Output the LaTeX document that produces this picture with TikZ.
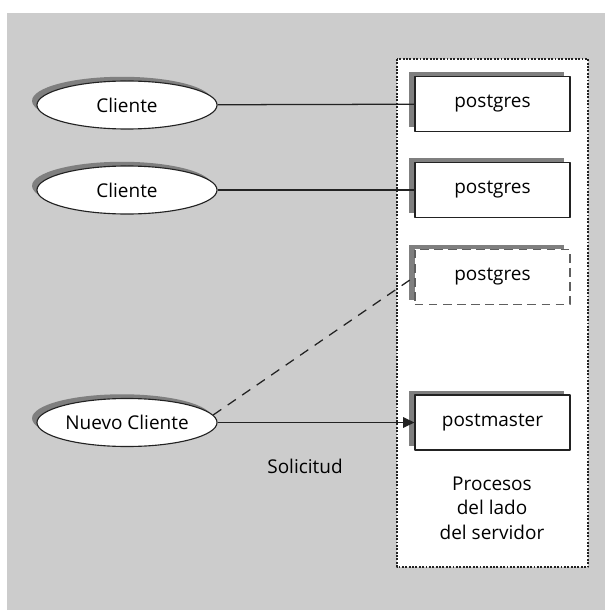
\documentclass[tikz,border=0pt]{standalone}
\usepackage{fontspec}
\setmainfont{Open Sans}
\usetikzlibrary{shapes.geometric,shadows,arrows.meta,positioning}
\definecolor{fondo}{HTML}{CCCCCC}
\definecolor{sombra}{HTML}{7F7F7F}
\definecolor{trazo}{HTML}{222222}
\tikzset{
  proceso/.style={draw=trazo, line width=.8pt, fill=white, minimum width=3.875cm, minimum height=1.375cm, inner sep=0pt,
    general shadow={fill=sombra, shadow xshift=-4pt, shadow yshift=3pt}},
  cliente/.style={ellipse, draw=trazo, line width=.8pt, fill=white, minimum width=4.5cm, minimum height=1.2cm, inner sep=0pt,
    general shadow={fill=sombra, shadow xshift=-3.5pt, shadow yshift=3pt}},
  conexion/.style={draw=trazo, line width=.9pt}
}
\begin{document}
\begin{tikzpicture}[x=0.025cm, y=-0.025cm, font=\fontsize{13.5}{17.4}\selectfont, >={Triangle[length=8pt,width=7.5pt]}, line join=round]
  \useasboundingbox (0,0) rectangle (605,610);
  \fill[fondo] (7,13) rectangle (605,610);
  % procesos del servidor
  \draw[fill=white, draw=trazo, line width=1pt, dash pattern=on 1.3pt off 1.1pt] (397,59) rectangle (588,567);
  \node[proceso] (pg1) at (492.5,104) {postgres};
  \node[proceso] (pg2) at (492.5,190) {postgres};
  \node[proceso, draw=sombra!75!black, dash pattern=on 6pt off 4pt, line width=1.1pt] (pg3) at (492.5,277) {postgres};
  \node[proceso] (pm) at (492.5,422.5) {postmaster};
  \node[align=center] (lado) at (492,508) {Procesos\\del lado\\del servidor};
  % clientes
  \node[cliente] (c1) at (127,105) {Cliente};
  \node[cliente] (c2) at (127,190) {Cliente};
  \node[cliente] (nuevo) at (127,422.5) {Nuevo Cliente};
  \draw[conexion] (c1) -- (pg1);
  \draw[conexion] (c2) -- (pg2);
  \draw[conexion, ->] (nuevo) -- (pm);
  \draw[conexion, dash pattern=on 7pt off 5.5pt] (nuevo.5) -- (pg3.west);
  \node (sol) at (305,466) {Solicitud};
\end{tikzpicture}
\end{document}
